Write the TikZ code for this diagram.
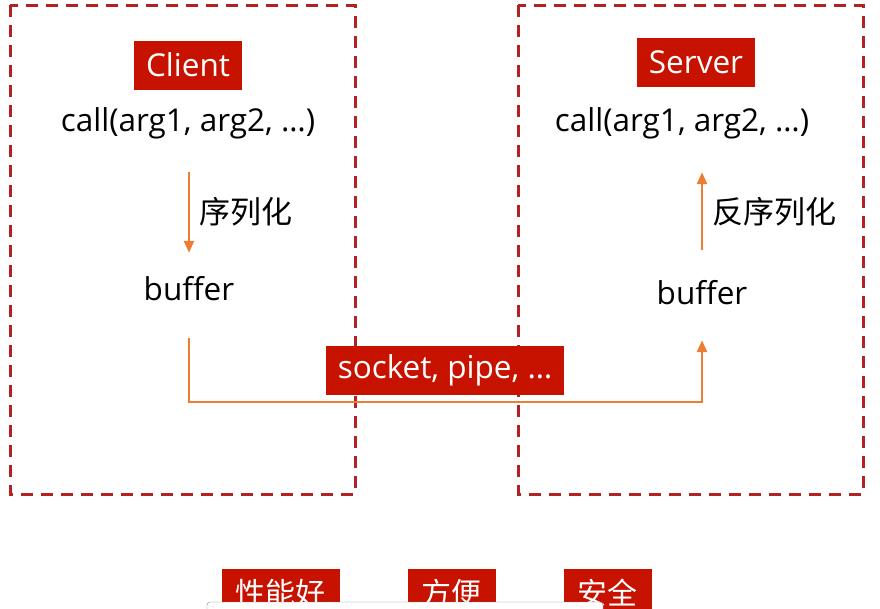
\documentclass[tikz,border=0pt]{standalone}
\usepackage{fontspec}
\setmainfont{Open Sans}
\newfontfamily\cjk{Noto Sans CJK SC}
\usepackage{tikz}
\usetikzlibrary{arrows.meta,positioning,calc}
\usepackage{xcolor}
\definecolor{tagred}{RGB}{200,18,0}
\definecolor{framered}{RGB}{178,34,34}
\definecolor{linkorange}{RGB}{237,125,49}

\begin{document}
\begin{tikzpicture}[x=1pt, y=-1pt,
    tag/.style={rectangle, fill=tagred, text=white, inner xsep=12pt,
                inner ysep=0pt, minimum height=49pt, font=\fontsize{31.5}{33}\selectfont},
    cjktag/.style={tag, inner xsep=14pt, font=\cjk\fontsize{30}{32}\selectfont},
    txt/.style={inner sep=0pt, text height=23pt, text depth=7pt,
                font=\fontsize{31.5}{33}\selectfont},
    cjktxt/.style={inner sep=0pt, font=\cjk\fontsize{31}{33}\selectfont},
    frame/.style={draw=framered, line width=3pt, dash pattern=on 12pt off 8pt},
    arrow/.style={-{Triangle[length=12pt,width=10pt]}, draw=linkorange,
                  line width=2.5pt}
]
\useasboundingbox (0,0) rectangle (880,608);
\clip (0,0) rectangle (880,608);

% dashed frames
\draw[frame] (10,5) rectangle (355,494);
\draw[frame] (518,5) rectangle (863,494);

% client side
\node[tag] (client) at (188,65) {Client};
\node[txt] (lcall) at (188,123) {call(arg1, arg2, …)};
\node[txt] (lbuf)  at (189,292) {buffer};
\node[cjktxt, anchor=west] (ser) at (199,212) {序列化};

% server side
\node[tag] (server) at (696,62) {Server};
\node[txt] (rcall) at (682,123) {call(arg1, arg2, …)};
\node[txt] (rbuf)  at (702,296) {buffer};
\node[cjktxt, anchor=west] (deser) at (712,212) {反序列化};

\draw[arrow, shorten <=34pt, shorten >=24pt] (lbuf.north |- lcall.south) -- (lbuf.north);
\draw[arrow, shorten <=31pt, shorten >=34pt] (rbuf.north) -- (rbuf.north |- rcall.south);
\draw[arrow, shorten <=31pt, shorten >=29pt] (lbuf.south) -- ++(0,95) -| (rbuf.south);

\node[tag] (chan) at (445,370) {socket, pipe, …};

% bottom tags
\node[cjktag] (fast) at (280.5,593) {性能好};
\node[cjktag] (easy) at (451.5,593) {方便};
\node[cjktag] (safe) at (607.5,593) {安全};

\draw[draw=gray, fill=white, rounded corners=3pt] (207,602) rectangle (603,620);
\end{tikzpicture}
\end{document}
